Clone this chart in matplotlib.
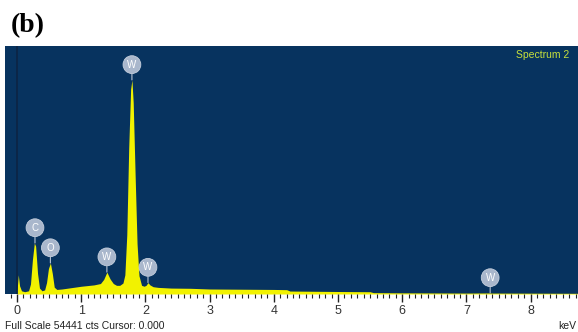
import numpy as np
import matplotlib
matplotlib.use('Agg')
import matplotlib.pyplot as plt
from matplotlib.ticker import MultipleLocator

# EDS spectrum (keV, counts)
energy_keV = [0.00, 0.02, 0.04, 0.07, 0.12, 0.18, 0.21, 0.24, 0.27, 0.29,
              0.32, 0.35, 0.39, 0.43, 0.46, 0.49, 0.52, 0.55, 0.58, 0.62,
              0.70, 0.80, 0.90, 1.00, 1.10, 1.20, 1.30, 1.35, 1.40, 1.45,
              1.50, 1.55, 1.60, 1.65, 1.68, 1.71, 1.74, 1.77, 1.79, 1.81,
              1.84, 1.87, 1.90, 1.94, 1.98, 2.01, 2.04, 2.07, 2.12, 2.20,
              2.40, 2.70, 3.00, 3.50, 4.00, 4.20, 4.25, 5.00, 5.50, 5.55,
              6.00, 7.00, 7.35, 7.40, 8.00, 8.74]
counts = [600, 4200, 1800, 700, 500, 700, 2200, 7500, 11200, 10500,
          4500, 1300, 700, 900, 2500, 5600, 6800, 4500, 1500, 1000,
          1100, 1300, 1500, 1700, 1850, 2000, 2300, 3200, 4800, 3300,
          2300, 1900, 1900, 2400, 4200, 13000, 32000, 45000, 47000, 42000,
          26000, 11000, 4000, 1900, 1700, 1900, 2500, 2000, 1600, 1450,
          1300, 1250, 1100, 1050, 1000, 950, 650, 550, 500, 300,
          250, 200, 230, 200, 180, 150]

# peak labels
peak_elements = ['C', 'O', 'W', 'W', 'W', 'W']
peak_keV = [0.28, 0.52, 1.40, 1.79, 2.04, 7.37]

FULL_SCALE = 54441
BG = '#07335f'
YELLOW = '#f2f200'

fig = plt.figure(figsize=(5.78, 3.32), dpi=100)
ax = fig.add_axes([5 / 578, 38 / 332, 573 / 578, 248 / 332])
ax.set_facecolor(BG)

e = np.array(energy_keV)
c = np.array(counts)
ax.fill_between(e, c, 0, color=YELLOW, lw=0)
ax.axvline(0.0, color='#0c2444', lw=1.2, zorder=3)

for el, pk in zip(peak_elements, peak_keV):
    near = np.abs(e - pk) <= 0.03
    top = c[near].max() if near.any() else np.interp(pk, e, c)
    ax.annotate(el, xy=(pk, top), xytext=(0, 11), textcoords='offset points',
                ha='center', va='center', fontsize=7, color='white',
                family='Liberation Sans',
                bbox=dict(boxstyle='circle,pad=0.4', fc='#a9b7cc', ec='#c5cfdd', lw=0.6),
                arrowprops=dict(arrowstyle='-', color='#b8c4d4', lw=0.8,
                                shrinkA=0, shrinkB=0))

ax.set_xlim(-0.187, 8.738)
ax.set_ylim(0, FULL_SCALE)
ax.set_yticks([])
ax.xaxis.set_major_locator(MultipleLocator(1))
ax.xaxis.set_minor_locator(MultipleLocator(0.1))
ax.tick_params(axis='x', which='major', length=6, width=1, color='#222222',
               labelsize=9, labelcolor='#333333', pad=2)
ax.tick_params(axis='x', which='minor', length=3, width=0.8, color='#222222')
for sp in ax.spines.values():
    sp.set_visible(False)
for lbl in ax.get_xticklabels():
    lbl.set_family('Liberation Sans')

ax.text((516 - 5) / 573, 1 - 9 / 248, 'Spectrum 2', transform=ax.transAxes,
        ha='left', va='center', fontsize=7.5, color='#c8e03c', family='Liberation Sans')

fig.text(11 / 578, 1 - 26 / 332, '(b)', fontsize=20, fontweight='bold',
         family='Liberation Serif', va='center', ha='left')
fig.text(5 / 578, 1 - 326 / 332, 'Full Scale 54441 cts Cursor: 0.000', fontsize=7.5,
         family='Liberation Sans', va='center', ha='left', color='#222222')
fig.text(558 / 578, 1 - 326 / 332, 'keV', fontsize=7.5,
         family='Liberation Sans', va='center', ha='left', color='#222222')

fig.savefig('out.png', dpi=100)
